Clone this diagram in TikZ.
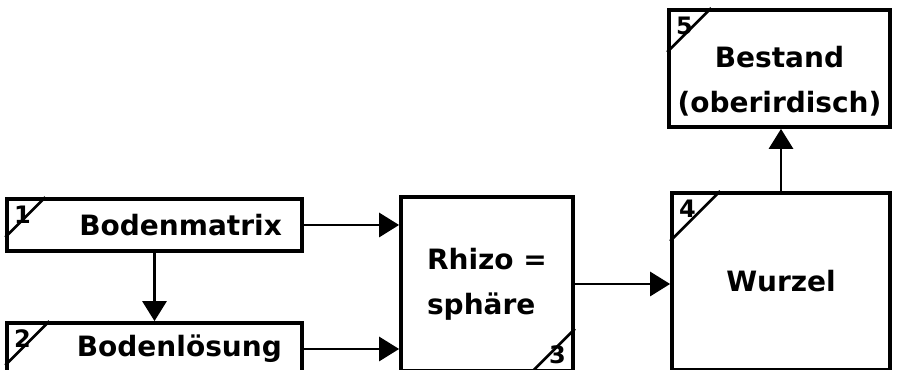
\documentclass[tikz,border=0pt]{standalone}
\usepackage{fontspec}
\setmainfont{DejaVu Sans}
\usetikzlibrary{arrows.meta,calc}

\begin{document}
\begin{tikzpicture}
[
x=0.75pt, y=0.75pt,
every node/.style={font=\fontsize{21}{34}\selectfont\bfseries},
Box/.style={rectangle,draw=black,line width=2.8pt,inner sep=0pt},
Wide/.style={Box,text width=191pt,inner xsep=15pt,align=right,minimum height=39pt},
Num/.style={inner sep=6.5pt,font=\fontsize{18}{22}\selectfont\bfseries},
Corner/.style={draw=black,line width=2pt},
Arrow/.style={-{Triangle[length=15pt,width=18pt]},line width=2.2pt},
]

\useasboundingbox (0,0) rectangle (900,370);

\node[Wide] (b1) at (154.5,145) {Bodenmatrix};
\node[Wide] (b2) at (154.5,21) {Bodenlösung};
\node[Box,minimum width=129pt,minimum height=130.5pt,align=left] (b3) at (487,86) {Rhizo =\\sphäre};
\node[Box,minimum width=163.5pt,minimum height=132.75pt] (b4) at (781,88.5) {Wurzel};
\node[Box,minimum width=165.75pt,minimum height=87.75pt,align=center,text height=69pt] (b5) at (779.5,301.5) {Bestand\\(oberirdisch)};

% corner marks
\draw[Corner] ($(b1.north west)+(0,-40)$) -- ($(b1.north west)+(40,0)$);
\draw[Corner] ($(b2.north west)+(0,-44)$) -- ($(b2.north west)+(44,0)$);
\draw[Corner] ($(b3.south east)+(-44,0)$) -- ($(b3.south east)+(0,44)$);
\draw[Corner] ($(b4.north west)+(0,-50)$) -- ($(b4.north west)+(50,0)$);
\draw[Corner] ($(b5.north west)+(0,-44)$) -- ($(b5.north west)+(44,0)$);

\node[Num,anchor=north west] (n1) at (b1.north west) {1};
\node[Num,anchor=north west] (n2) at (b2.north west) {2};
\node[Num,anchor=south east] (n3) at (b3.south east) {3};
\node[Num,anchor=north west] (n4) at (b4.north west) {4};
\node[Num,anchor=north west] (n5) at (b5.north west) {5};

\draw[Arrow] (b1.east) -- (b1.east -| b3.west);
\draw[Arrow] (b2.east) -- (b2.east -| b3.west);
\draw[Arrow] (b1.south) -- (b2.north);
\draw[Arrow] (b3.east) -- (b3.east -| b4.west);
\draw[Arrow] (b4.north) -- (b5.south -| b4.north);

\end{tikzpicture}
\end{document}
